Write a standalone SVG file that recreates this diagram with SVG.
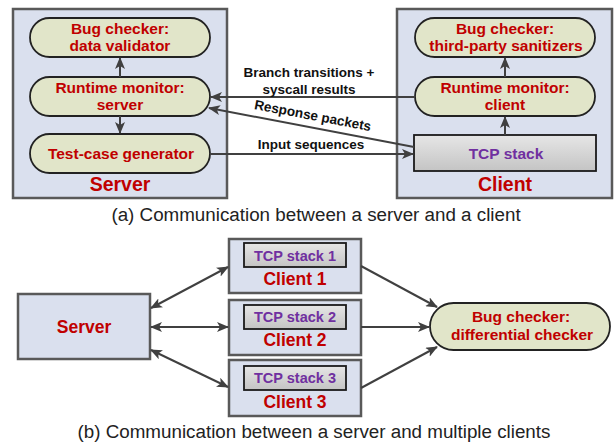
<svg xmlns="http://www.w3.org/2000/svg" width="615" height="443" viewBox="0 0 615 443">
<defs>
<linearGradient id="tcpg" x1="0" y1="0" x2="0" y2="1">
<stop offset="0" stop-color="#e6e6e6"/>
<stop offset="1" stop-color="#c4c4c4"/>
</linearGradient>
<marker id="ah" viewBox="0 0 12 10" refX="11" refY="5" markerWidth="12" markerHeight="10" markerUnits="userSpaceOnUse" orient="auto-start-reverse">
<path d="M0,0 L12,5 L0,10 L3,5 z" fill="#404040"/>
</marker>
</defs>
<style>
.box{fill:#dae0ee;stroke:#595959;stroke-width:2.5}
.pill{fill:#e1e5c9;stroke:#222;stroke-width:1.8}
.tcp{fill:url(#tcpg);stroke:#1a1a1a;stroke-width:1.8}
.red{font-family:"Liberation Sans",Arial,sans-serif;font-weight:bold;fill:#c00000;text-anchor:middle}
.pur{font-family:"Liberation Sans",Arial,sans-serif;font-weight:bold;fill:#7030a0;text-anchor:middle}
.lbl{font-family:"Liberation Sans",Arial,sans-serif;font-weight:bold;fill:#111;font-size:13.5px;text-anchor:middle}
.cap{font-family:"Liberation Sans",Arial,sans-serif;fill:#222;font-size:18.8px;text-anchor:middle}
.ln{stroke:#404040;stroke-width:2;fill:none}
</style>

<!-- Part (a) -->
<g id="server-a">
<rect class="box" x="13" y="9" width="214" height="189"/>
<text class="red" x="120" y="191" font-size="19.5">Server</text>
</g>
<g id="bug-checker-server">
<rect class="pill" x="30" y="18" width="180" height="39" rx="19.5"/>
<text class="red" x="120" y="33.5" font-size="15.5">Bug checker:</text>
<text class="red" x="120" y="50.5" font-size="15.5">data validator</text>
</g>
<g id="runtime-monitor-server">
<rect class="pill" x="30" y="77" width="180" height="39" rx="19.5"/>
<text class="red" x="120" y="92.5" font-size="15.5">Runtime monitor:</text>
<text class="red" x="120" y="109.5" font-size="15.5">server</text>
</g>
<g id="test-case-generator">
<rect class="pill" x="30" y="134" width="180" height="39" rx="19.5"/>
<text class="red" x="121" y="158.5" font-size="15.5">Test-case generator</text>
</g>

<g id="client-a">
<rect class="box" x="397" y="9" width="215" height="189"/>
<text class="red" x="505" y="191" font-size="19.5">Client</text>
</g>
<g id="bug-checker-client">
<rect class="pill" x="415" y="18" width="180" height="39" rx="19.5"/>
<text class="red" x="505" y="33.5" font-size="15.5">Bug checker:</text>
<text class="red" x="506" y="50.5" font-size="15.5">third-party sanitizers</text>
</g>
<g id="runtime-monitor-client">
<rect class="pill" x="415" y="77" width="180" height="39" rx="19.5"/>
<text class="red" x="505" y="92.5" font-size="15.5">Runtime monitor:</text>
<text class="red" x="505" y="109.5" font-size="15.5">client</text>
</g>
<g id="tcp-stack-a">
<rect class="tcp" x="414" y="135" width="182" height="36"/>
<text class="pur" x="506" y="158.5" font-size="15.5">TCP stack</text>
</g>

<text class="cap" x="316" y="221">(a) Communication between a server and a client</text>

<!-- Part (b) -->
<g id="server-b">
<rect class="box" x="18" y="294" width="132" height="65"/>
<text class="red" x="84" y="333" font-size="17.5">Server</text>
</g>
<g id="client-1">
<rect class="box" x="229" y="239" width="132" height="54"/>
<rect class="tcp" x="244" y="243" width="102" height="24"/>
<text class="pur" x="295" y="260.5" font-size="14.5">TCP stack 1</text>
<text class="red" x="295" y="285" font-size="17.5">Client 1</text>
</g>
<g id="client-2">
<rect class="box" x="229" y="300" width="132" height="55"/>
<rect class="tcp" x="244" y="305" width="102" height="24"/>
<text class="pur" x="295" y="322" font-size="14.5">TCP stack 2</text>
<text class="red" x="295" y="346" font-size="17.5">Client 2</text>
</g>
<g id="client-3">
<rect class="box" x="229" y="360" width="132" height="56"/>
<rect class="tcp" x="244" y="366" width="102" height="24"/>
<text class="pur" x="295" y="383" font-size="14.5">TCP stack 3</text>
<text class="red" x="295" y="408" font-size="17.5">Client 3</text>
</g>
<g id="differential-checker">
<rect class="pill" x="430" y="303" width="180" height="47" rx="23.5"/>
<text class="red" x="521" y="322" font-size="15.5">Bug checker:</text>
<text class="red" x="522" y="340" font-size="15.5">differential checker</text>
</g>

<text class="cap" x="314" y="438">(b) Communication between a server and multiple clients</text>

<g id="connectors">
<!-- part a, server internal -->
<line class="ln" x1="120" y1="77" x2="120" y2="58" marker-end="url(#ah)"/>
<line class="ln" x1="120" y1="116" x2="120" y2="133" marker-end="url(#ah)"/>
<!-- part a, client internal -->
<line class="ln" x1="505" y1="135" x2="505" y2="117" marker-end="url(#ah)"/>
<line class="ln" x1="505" y1="77" x2="505" y2="58" marker-end="url(#ah)"/>
<!-- cross -->
<line class="ln" x1="415" y1="97" x2="211" y2="97" marker-end="url(#ah)"/>
<line class="ln" x1="414" y1="147" x2="209" y2="108" marker-end="url(#ah)"/>
<line class="ln" x1="210" y1="154" x2="413" y2="154" marker-end="url(#ah)"/>
<text class="lbl" x="309" y="77">Branch transitions +</text>
<text class="lbl" x="309" y="94">syscall results</text>
<text class="lbl" x="312" y="120" transform="rotate(10.8 312 120)">Response packets</text>
<text class="lbl" x="311" y="149">Input sequences</text>
<!-- part b -->
<line class="ln" x1="151" y1="308" x2="228" y2="267" marker-start="url(#ah)" marker-end="url(#ah)"/>
<line class="ln" x1="151" y1="327" x2="228" y2="327" marker-start="url(#ah)" marker-end="url(#ah)"/>
<line class="ln" x1="151" y1="350" x2="228" y2="387" marker-start="url(#ah)" marker-end="url(#ah)"/>
<line class="ln" x1="361" y1="266" x2="437" y2="307" marker-end="url(#ah)"/>
<line class="ln" x1="361" y1="327" x2="429" y2="327" marker-end="url(#ah)"/>
<line class="ln" x1="361" y1="388" x2="437" y2="347" marker-end="url(#ah)"/>
</g>
</svg>
